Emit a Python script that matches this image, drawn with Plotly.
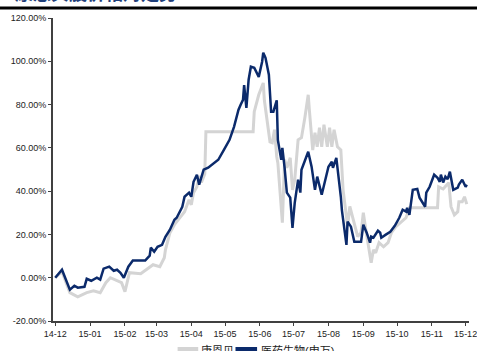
import plotly.graph_objects as go

# ---- data ----
navy_dates = ["2014-12-01","2014-12-07","2014-12-14","2014-12-18","2014-12-21","2014-12-27","2014-12-29",
    "2015-01-02","2015-01-07","2015-01-10","2015-01-13","2015-01-18","2015-01-22","2015-01-25","2015-01-28","2015-01-31",
    "2015-02-04","2015-02-08","2015-02-19","2015-02-23","2015-02-24","2015-02-27",
    "2015-03-02","2015-03-06","2015-03-09","2015-03-13","2015-03-17","2015-03-19","2015-03-24","2015-03-26","2015-03-30",
    "2015-04-01","2015-04-03","2015-04-06","2015-04-08","2015-04-12","2015-04-16","2015-04-22","2015-04-25","2015-04-30",
    "2015-05-05","2015-05-09","2015-05-13","2015-05-15","2015-05-17","2015-05-18","2015-05-20","2015-05-22","2015-05-24","2015-05-27","2015-05-31",
    "2015-06-03","2015-06-04","2015-06-06","2015-06-09","2015-06-11","2015-06-13","2015-06-16","2015-06-17","2015-06-20","2015-06-21","2015-06-23","2015-06-25","2015-06-28","2015-06-30",
    "2015-07-02","2015-07-05","2015-07-07","2015-07-08","2015-07-14","2015-07-17","2015-07-20","2015-07-22","2015-07-26","2015-07-29",
    "2015-08-01","2015-08-04","2015-08-05","2015-08-08","2015-08-10","2015-08-12","2015-08-13","2015-08-17","2015-08-18","2015-08-21","2015-08-24","2015-08-30",
    "2015-09-01","2015-09-04","2015-09-07","2015-09-08","2015-09-10","2015-09-14","2015-09-16","2015-09-17","2015-09-21","2015-09-25","2015-09-29",
    "2015-10-03","2015-10-06","2015-10-09","2015-10-10","2015-10-12","2015-10-15","2015-10-19","2015-10-21","2015-10-23","2015-10-26","2015-10-27","2015-10-30",
    "2015-11-03","2015-11-06","2015-11-08","2015-11-09","2015-11-11","2015-11-13","2015-11-15","2015-11-17","2015-11-20","2015-11-24","2015-11-25","2015-11-28",
    "2015-12-01","2015-12-02"]
navy_values = [0,3.7,-5.5,-3.7,-4.6,-4.2,-0.5,
    -1.4,0,-0.9,4.2,5.1,3.2,3.7,2.3,0,
    5.1,7.9,7.9,10.2,13.9,12,
    14.3,15.2,18.9,22.2,26.8,27.7,32.8,37.4,39.3,
    37.4,44.3,47.6,43,49.9,50.8,53.1,54.5,59.1,
    63.7,69.7,77.6,80,82.2,89,78.5,91.5,97.5,97,92.8,
    99.8,104,101.6,93.8,76.7,76.7,82,63.7,54.5,60,50.8,39.3,37,23,
    34.6,45.3,39.3,49.9,58.2,51.3,40.6,46.7,38.3,45.3,
    51.3,53.6,50.8,55.4,47.6,37.4,31,15.2,25.9,23.6,16.6,16.6,
    24.5,20.8,16.2,19,18.5,21.7,20.8,18.5,19.9,21.2,24,
    27.7,31.4,30.5,32.3,29,40.6,41,37,35.1,32.8,39.3,42,
    47.6,46.2,44.3,47.6,44,46.7,45.5,49,40.6,41.6,43,45.3,
    42,43]

grey_dates = ["2014-12-01","2014-12-07","2014-12-14","2014-12-21","2014-12-29",
    "2015-01-04","2015-01-10","2015-01-15","2015-01-19","2015-01-23","2015-01-29",
    "2015-02-01","2015-02-05","2015-02-15","2015-02-21","2015-02-26",
    "2015-03-04","2015-03-08","2015-03-09","2015-03-13","2015-03-17","2015-03-26","2015-03-30",
    "2015-04-01","2015-04-03","2015-04-06","2015-04-08","2015-04-10","2015-04-13","2015-04-14",
    "2015-05-26","2015-05-27","2015-05-31",
    "2015-06-04","2015-06-05","2015-06-08","2015-06-10","2015-06-12","2015-06-14","2015-06-16","2015-06-17","2015-06-21","2015-06-23","2015-06-25","2015-06-28","2015-06-30",
    "2015-07-02","2015-07-05","2015-07-08","2015-07-11","2015-07-13","2015-07-14","2015-07-15","2015-07-17","2015-07-18","2015-07-20","2015-07-22","2015-07-24","2015-07-26","2015-07-28","2015-07-31",
    "2015-08-02","2015-08-04","2015-08-06","2015-08-09","2015-08-12","2015-08-14","2015-08-17","2015-08-18","2015-08-20","2015-08-24","2015-08-27","2015-08-30",
    "2015-09-01","2015-09-03","2015-09-06","2015-09-08","2015-09-10","2015-09-12","2015-09-15","2015-09-19","2015-09-23","2015-09-26","2015-09-30",
    "2015-10-05","2015-10-09","2015-10-12",
    "2015-11-06","2015-11-07","2015-11-11","2015-11-16","2015-11-18","2015-11-21","2015-11-24","2015-11-25","2015-11-28","2015-11-30",
    "2015-12-02"]
grey_values = [0,2.8,-6.9,-8.8,-6.9,
    -6,-6.9,-2.3,0,-0.9,-2.3,
    -6.5,2.3,1.8,4.2,6,
    5.1,9.2,12.9,20.8,24.5,30.5,36,
    33.7,39.3,42,47,44,48,67.4,
    67.4,76.7,84.5,
    90,82,71.6,62.8,62.4,68.4,55.9,53,25.4,54.5,50.8,55.4,40.6,
    45.3,63.7,64.7,73.9,82.2,84.5,77.6,67,59,67,60.5,69.3,60.5,70.7,60.5,
    69.3,60.5,68.4,60.5,59,40.6,28.2,23.6,33,25.4,19,20.8,
    30,23,13.9,6.9,12.9,11.5,16.2,14.3,16.2,20.8,23.6,
    25.9,27.7,32.3,
    32.3,42,41,43.9,32.8,29,30.5,35.1,35.1,37.4,
    34]

y_ticks = [-20, 0, 20, 40, 60, 80, 100, 120]
y_tick_labels = ["-20.00%", "0.00%", "20.00%", "40.00%", "60.00%", "80.00%", "100.00%", "120.00%"]
series_names = ["康恩贝", "医药生物(申万)"]
title_text = "康恩贝股价相对走势"

NAVY = "#0b2a6b"
GREY = "#d4d4d4"

# plot area geometry (pixels) used for paper-coordinate placement of decorations
L, T, W, H = 53, 18, 424, 303
def px(x):
    return (x - L) / W
def py(y):
    return (T + H - y) / H

fig = go.Figure()
fig.add_trace(go.Scatter(x=grey_dates, y=grey_values, mode="lines", name=series_names[0],
                         line=dict(color=GREY, width=3)))
fig.add_trace(go.Scatter(x=navy_dates, y=navy_values, mode="lines", name=series_names[1],
                         line=dict(color=NAVY, width=2.5)))

axis_font = dict(family="Liberation Sans, Arial, sans-serif", size=9, color="#222222")
legend_font = dict(family="Liberation Sans, Noto Sans CJK SC, sans-serif", size=11, color="#222222")

shapes = [
    dict(type="rect", xref="paper", yref="paper", x0=-0.2, x1=1.05,
         y0=py(9.5), y1=py(6.5), fillcolor="black", line=dict(width=0)),
    # legend samples
    dict(type="line", xref="paper", yref="paper", x0=px(180), x1=px(201), y0=py(349), y1=py(349),
         line=dict(color=GREY, width=4)),
    dict(type="line", xref="paper", yref="paper", x0=px(239), x1=px(261), y0=py(349), y1=py(349),
         line=dict(color=NAVY, width=4)),
]
annotations = [
    dict(text="<b>" + title_text + "</b>", xref="paper", yref="paper",
         x=px(12), xanchor="left", y=py(-8), yanchor="middle", showarrow=False,
         font=dict(size=18, color="#1f3f7a", family="Noto Sans CJK SC, sans-serif")),
    dict(text=series_names[0], xref="paper", yref="paper", x=px(202), xanchor="left",
         y=py(350), yanchor="middle", showarrow=False, font=legend_font),
    dict(text=series_names[1], xref="paper", yref="paper", x=px(263), xanchor="left",
         y=py(350), yanchor="middle", showarrow=False, font=legend_font),
]

fig.update_layout(
    width=477, height=351,
    margin=dict(l=L, r=0, t=T, b=351 - T - H),
    paper_bgcolor="white", plot_bgcolor="white",
    showlegend=False,
    xaxis=dict(type="date", range=["2014-11-29", "2015-12-04"], dtick="M1", tickformat="%y-%m",
               showgrid=False, zeroline=False, showline=True, linecolor="#404040", linewidth=2,
               ticks="outside", ticklen=3, tickcolor="#404040", tickwidth=1,
               ticklabeloverflow="allow", tickfont=axis_font),
    yaxis=dict(range=[-20, 120], tickvals=y_ticks, ticktext=y_tick_labels,
               showgrid=False, zeroline=False, showline=True, linecolor="#404040", linewidth=2,
               ticks="outside", ticklen=3, tickcolor="#404040", tickwidth=1,
               tickfont=axis_font),
    shapes=shapes,
    annotations=annotations,
)

fig.write_html("out.html")
